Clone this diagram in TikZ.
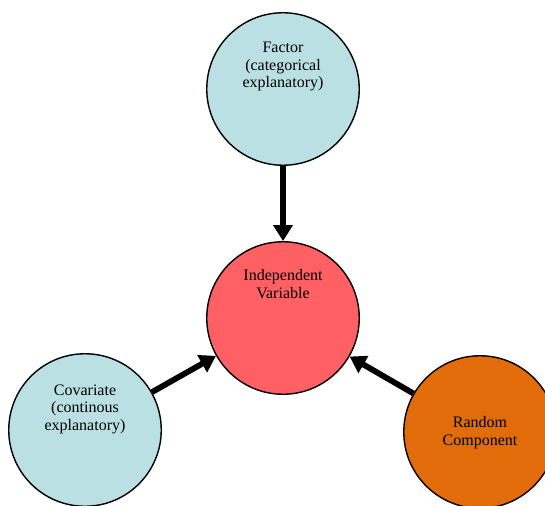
\documentclass[tikz,border=0pt]{standalone}
\usepackage{fontspec}
\setmainfont{Liberation Serif}
\usetikzlibrary{arrows.meta}
\definecolor{lblue}{RGB}{187,224,227}
\definecolor{lred}{RGB}{255,96,100}
\definecolor{dorange}{RGB}{227,108,10}
\begin{document}
\begin{tikzpicture}[x=1pt,y=-1pt,
  ball/.style={circle,draw=black,line width=1.4pt,minimum size=152.5pt,inner sep=0pt},
  lbl/.style={align=center,inner sep=0pt,font=\fontsize{16}{17.5}\selectfont},
  conn/.style={line width=5.8pt,-{Triangle[length=16pt,width=19pt]}}]
\useasboundingbox (0,0) rectangle (545,505);
\node[ball,fill=lblue] (factor) at (283,89) {};
\node[ball,fill=lred] (iv) at (283,318) {};
\node[ball,fill=lblue] (cov) at (85,430) {};
\node[ball,fill=dorange] (rand) at (480,432) {};
\node[lbl,anchor=base] (tfactor) at (283,88) {Factor\\(categorical\\explanatory)};
\node[lbl,anchor=base] (tiv) at (283,298) {Independent\\Variable};
\node[lbl,anchor=base] (tcov) at (85,430) {Covariate\\(continous\\explanatory)};
\node[lbl,anchor=base] (trand) at (480,445) {Random\\Component};
\draw[conn] (factor) -- (iv);
\draw[conn] (cov) -- (iv);
\draw[conn] (rand) -- (iv);
\end{tikzpicture}
\end{document}
